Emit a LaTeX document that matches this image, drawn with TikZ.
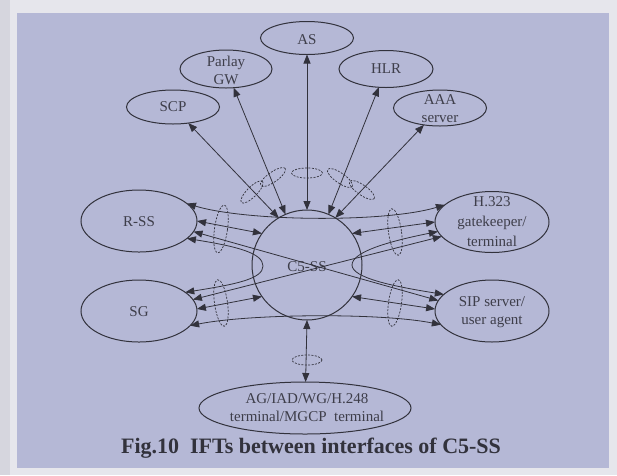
\documentclass[tikz,border=0pt]{standalone}
\usepackage{fontspec}
\setmainfont{Liberation Serif}
\usetikzlibrary{arrows.meta,shapes.geometric}
\definecolor{paper}{RGB}{230,230,236}
\definecolor{paperedge}{RGB}{214,214,222}
\definecolor{panel}{RGB}{181,184,214}
\definecolor{ink}{RGB}{50,50,60}
\definecolor{txt}{RGB}{62,62,74}
\begin{document}
\begin{tikzpicture}[x=1pt,y=-1pt,
  ent/.style={ellipse,draw=ink,line width=1pt,inner sep=0pt,outer sep=0pt},
  lbl/.style={text=txt,font=\fontsize{15}{18}\selectfont,align=center,inner sep=0pt},
  link/.style={draw=ink,line width=0.8pt,{Triangle[length=9pt,width=7pt]}-{Triangle[length=9pt,width=7pt]}},
  ring/.style={ellipse,draw=ink,line width=0.7pt,dash pattern=on 2pt off 1.4pt,inner sep=0pt},
]
\useasboundingbox (0,0) rectangle (617,475);
% paper and panel
\fill[paper] (0,0) rectangle (617,475);
\fill[paperedge] (0,0) rectangle (10,475);
\fill[panel] (17,13) rectangle (609,468);

% entities
\node[ent,minimum width=93pt,minimum height=33pt] (as) at (307,38) {};
\node[ent,minimum width=92pt,minimum height=38pt] (parlay) at (226,69) {};
\node[ent,minimum width=94pt,minimum height=37pt] (hlr) at (386,69) {};
\node[ent,minimum width=93pt,minimum height=34pt] (scp) at (173,107) {};
\node[ent,minimum width=93pt,minimum height=36pt] (aaa) at (440,108) {};
\node[ent,minimum width=116pt,minimum height=62pt] (rss) at (139,221) {};
\node[ent,minimum width=114pt,minimum height=61pt] (h323) at (492,222) {};
\node[ent,minimum width=116pt,minimum height=62pt] (sg) at (139,311) {};
\node[ent,minimum width=114pt,minimum height=62pt] (sip) at (492,311) {};
\node[ent,circle,minimum size=110pt] (c5) at (307,265) {};
\node[ent,minimum width=212pt,minimum height=52pt] (ag) at (305,408) {};

% labels
\node[lbl] (as-t) at (307,40) {AS};
\node[lbl] (parlay-t) at (226,70) {Parlay\\GW};
\node[lbl] (hlr-t) at (386,69) {HLR};
\node[lbl] (scp-t) at (173,107) {SCP};
\node[lbl] (aaa-t) at (440,109) {AAA\\server};
\node[lbl] (rss-t) at (139,222) {R-SS};
\node[lbl,font=\fontsize{15}{20}\selectfont] (h323-t) at (492,222) {H.323\\gatekeeper/\\terminal};
\node[lbl] (sg-t) at (139,312) {SG};
\node[lbl] (sip-t) at (492,312) {SIP server/\\user agent};
\node[lbl] (c5-t) at (307,267) {C5-SS};
\node[lbl] (ag-t) at (307,408) {AG/IAD/WG/H.248\\terminal/MGCP~~terminal};

% upper interfaces
\draw[link] (scp) -- (c5.121);
\draw[link] (parlay) -- (c5.113);
\draw[link] (as) -- (c5.90);
\draw[link] (hlr) -- (c5.67);
\draw[link] (aaa) -- (c5.59);

% side interfaces to the softswitch
\draw[link] (rss.0) -- (c5.145);
\draw[link] (h323.180) -- (c5.35);
\draw[link] (sg.2) -- (c5.215);
\draw[link] (sip.178) -- (c5.325);

% lower interface
\draw[link] (ag) -- (c5.270);

% peer links between the side entities
\draw[link] (rss.20) .. controls +(60,18) and +(-60,18) .. (h323.160);
\draw[link] (sg.-16) .. controls +(60,-12) and +(-60,-12) .. (sip.195);
\draw[link] (rss.-11) -- (sip.169);
\draw[link] (sg.12) -- (h323.196);
\coordinate (lhp) at (263,266);
\coordinate (rhp) at (352,265);
\draw[link] (rss.-20) .. controls +(50,8) and +(0,-13) .. (lhp)
               .. controls +(0,13) and +(50,-8) .. (sg.22);
\draw[link] (h323.190) .. controls +(-50,10) and +(0,-13) .. (rhp)
               .. controls +(0,13) and +(-50,-8) .. (sip.161);

% interface groupings
\node[ring,minimum width=30pt,minimum height=10pt,rotate=45] (g1) at (252,192) {};
\node[ring,minimum width=30pt,minimum height=10pt,rotate=35] (g2) at (273,177) {};
\node[ring,minimum width=31pt,minimum height=10pt] (g3) at (307,173) {};
\node[ring,minimum width=30pt,minimum height=10pt,rotate=-35] (g4) at (340,178) {};
\node[ring,minimum width=30pt,minimum height=10pt,rotate=-35] (g5) at (362,190) {};
\node[ring,minimum width=13pt,minimum height=48pt,rotate=-8] (g6) at (221,229) {};
\node[ring,minimum width=13pt,minimum height=47pt,rotate=8] (g7) at (221,303) {};
\node[ring,minimum width=13pt,minimum height=47pt,rotate=8] (g8) at (395,232) {};
\node[ring,minimum width=13pt,minimum height=47pt,rotate=-8] (g9) at (395,303) {};
\node[ring,minimum width=30pt,minimum height=10pt] (g10) at (307,360) {};

% caption
\node[text=ink,font=\bfseries\fontsize{22}{26}\selectfont,inner sep=0pt] (cap) at (311,448)
  {Fig.10\ \ IFTs between interfaces of C5-SS};
\end{tikzpicture}
\end{document}
